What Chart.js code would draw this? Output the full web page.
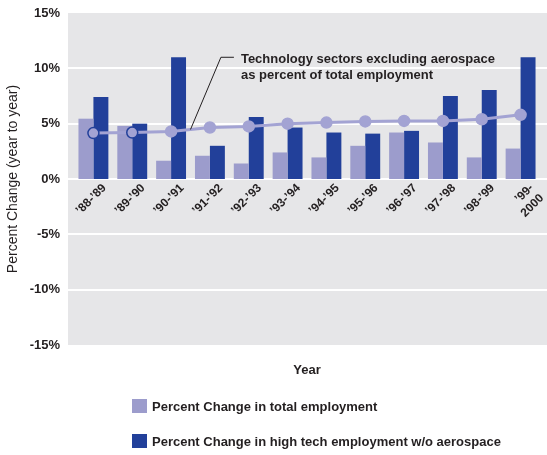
<!DOCTYPE html>
<html>
<head>
<meta charset="utf-8">
<script src="https://cdn.jsdelivr.net/npm/chart.js@4.4.0/dist/chart.umd.min.js"></script>
<style>
  html, body { margin: 0; padding: 0; background: #fff; }
  #wrap { width: 547px; height: 455px; position: relative; }
</style>
</head>
<body>
<div id="wrap"><canvas id="employmentChart"></canvas></div>
<script>
// Year-over-year change, Washington employment
const periods = ['’88-’89', '’89-’90', '’90-’91', '’91-’92', '’92-’93', '’93-’94',
                 '’94-’95', '’95-’96', '’96-’97', '’97-’98', '’98-’99', ['’99-', '2000']];
const totalChange = [5.45, 4.8, 1.65, 2.1, 1.4, 2.4, 1.95, 3.0, 4.2, 3.3, 1.95, 2.75];
const hightechChange = [7.4, 5.0, 11.0, 3.0, 5.6, 4.65, 4.2, 4.1, 4.35, 7.5, 8.05, 11.0];
const techShare = [4.15, 4.2, 4.3, 4.65, 4.75, 5.0, 5.1, 5.2, 5.25, 5.25, 5.4, 5.8];
const yTicks = [-15, -10, -5, 0, 5, 10, 15];

const LIGHT = '#9c9ccc';
const DARK = '#22409a';
const LINE = '#a3a3d3';
const TEXT = '#231f20';
const FONT = '"Liberation Sans", Arial, sans-serif';

Chart.defaults.font.family = FONT;
Chart.defaults.color = TEXT;

// gray plot panel, white grid lines, callout and legend
const decorations = {
  id: 'decorations',
  beforeDraw(chart) {
    const { ctx, chartArea: a, scales: { y } } = chart;
    const left = a.left - 6, right = chart.width;
    ctx.save();
    ctx.fillStyle = '#e6e6e8';
    ctx.fillRect(left, a.top, right - left, a.bottom - a.top);
    ctx.strokeStyle = '#ffffff';
    ctx.lineWidth = 2;
    yTicks.slice(1, -1).forEach(v => {
      const py = Math.round(y.getPixelForValue(v));
      ctx.beginPath();
      ctx.moveTo(left, py);
      ctx.lineTo(right, py);
      ctx.stroke();
    });
    ctx.restore();
  },
  afterDraw(chart) {
    const { ctx, chartArea: a, scales: { x, y } } = chart;
    ctx.save();

    // callout for the line series
    const tipX = (x.getPixelForValue(2) + x.getPixelForValue(3)) / 2;
    const tipY = y.getPixelForValue((techShare[2] + techShare[3]) / 2);
    const elbowX = x.getPixelForValue(3) + 11;
    const elbowY = y.getPixelForValue(11.0);
    ctx.strokeStyle = '#231f20';
    ctx.lineWidth = 1;
    ctx.beginPath();
    ctx.moveTo(tipX, tipY);
    ctx.lineTo(elbowX, elbowY);
    ctx.lineTo(elbowX + 13, elbowY);
    ctx.stroke();
    ctx.fillStyle = TEXT;
    ctx.font = 'bold 13px ' + FONT;
    ctx.textBaseline = 'middle';
    ctx.textAlign = 'left';
    ctx.fillText('Technology sectors excluding aerospace', elbowX + 20, elbowY + 2);
    ctx.fillText('as percent of total employment', elbowX + 20, elbowY + 18);

    // axis caption
    ctx.textAlign = 'center';
    ctx.fillText('Year', (a.left + a.right) / 2, 370);

    // legend for the two bar series
    ctx.textAlign = 'left';
    chart.data.datasets.filter(d => d.type === 'bar').forEach((d, i) => {
      const top = 399 + i * 35;
      ctx.fillStyle = d.backgroundColor;
      ctx.fillRect(132, top, 15, 14);
      ctx.fillStyle = TEXT;
      ctx.fillText(d.label, 152, top + 8);
    });
    ctx.restore();
  }
};

new Chart(document.getElementById('employmentChart'), {
  data: {
    labels: periods,
    datasets: [
      {
        type: 'line',
        label: 'Technology sectors excluding aerospace as percent of total employment',
        data: techShare,
        borderColor: LINE,
        borderWidth: 3,
        pointRadius: 5.5,
        pointBackgroundColor: LINE,
        pointBorderColor: techShare.map((v, i) => i < 2 ? DARK : LINE),
        pointBorderWidth: 1.5,
        tension: 0,
        order: 0
      },
      {
        type: 'bar',
        label: 'Percent Change in total employment',
        data: totalChange,
        backgroundColor: LIGHT,
        categoryPercentage: 0.77,
        barPercentage: 1.0,
        order: 1
      },
      {
        type: 'bar',
        label: 'Percent Change in high tech employment w/o aerospace',
        data: hightechChange,
        backgroundColor: DARK,
        categoryPercentage: 0.77,
        barPercentage: 1.0,
        order: 1
      }
    ]
  },
  options: {
    responsive: true,
    maintainAspectRatio: false,
    animation: false,
    layout: { padding: { top: 13, right: 5, left: 0, bottom: 110 } },
    plugins: {
      legend: { display: false },
      tooltip: { enabled: false }
    },
    scales: {
      x: {
        position: { y: 0 },
        grid: { display: false, drawTicks: false },
        border: { display: false },
        ticks: {
          autoSkip: false,
          maxRotation: 45,
          minRotation: 45,
          labelOffset: 11,
          padding: 2,
          font: { size: 12, weight: 'bold' },
          color: TEXT
        }
      },
      y: {
        min: -15,
        max: 15,
        grid: { display: false, drawTicks: false },
        border: { display: false },
        ticks: {
          stepSize: 5,
          padding: 14,
          font: { size: 13, weight: 'bold' },
          color: TEXT,
          callback: v => v + '%'
        },
        title: {
          display: true,
          text: 'Percent Change (year to year)',
          font: { size: 14, weight: 'normal' },
          color: TEXT,
          padding: { top: 5, bottom: 0 }
        },
        afterFit(scale) {
          scale.width = 74;
          scale.paddingTop = 0;
          scale.paddingBottom = 0;
        }
      }
    }
  },
  plugins: [decorations]
});
</script>
</body>
</html>
